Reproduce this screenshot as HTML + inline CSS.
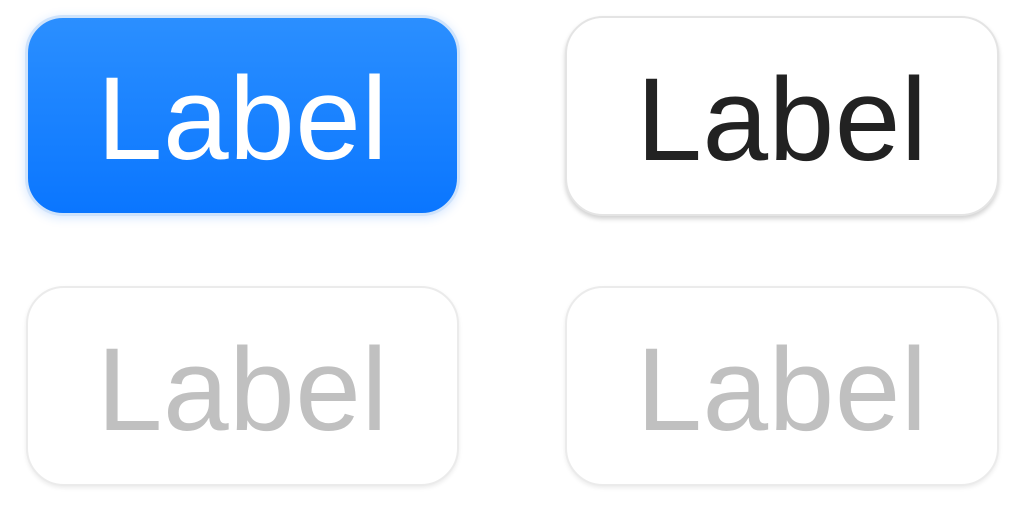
<!DOCTYPE html>
<html><head><meta charset="utf-8"><style>
html,body{margin:0;padding:0;background:#fff;width:1016px;height:512px;overflow:hidden;font-family:"Liberation Sans",sans-serif}
.btn{position:absolute;box-sizing:border-box;border-radius:38px;display:flex;align-items:center;justify-content:center;font-size:118px;letter-spacing:0.5px;padding-top:7px}
.blue{left:25px;top:15px;width:435px;height:201px;background:linear-gradient(#2b8fff,#0a76ff);border:3px solid #cfe3fb;color:#fff;box-shadow:0 2px 10px rgba(30,120,255,0.18)}
.white{left:565px;top:16px;width:434px;height:200px;background:#fff;border:2px solid #e4e4e4;color:#222;box-shadow:0 3px 5px rgba(0,0,0,0.18)}
.dis{background:#fff;border:2px solid #ebebeb;color:#c0c0c0;box-shadow:0 2px 4px rgba(0,0,0,0.08);height:200px}
</style></head><body>
<div class="btn blue">Label</div>
<div class="btn white">Label</div>
<div class="btn dis" style="left:26px;top:286px;width:433px">Label</div>
<div class="btn dis" style="left:565px;top:286px;width:434px">Label</div>
</body></html>
